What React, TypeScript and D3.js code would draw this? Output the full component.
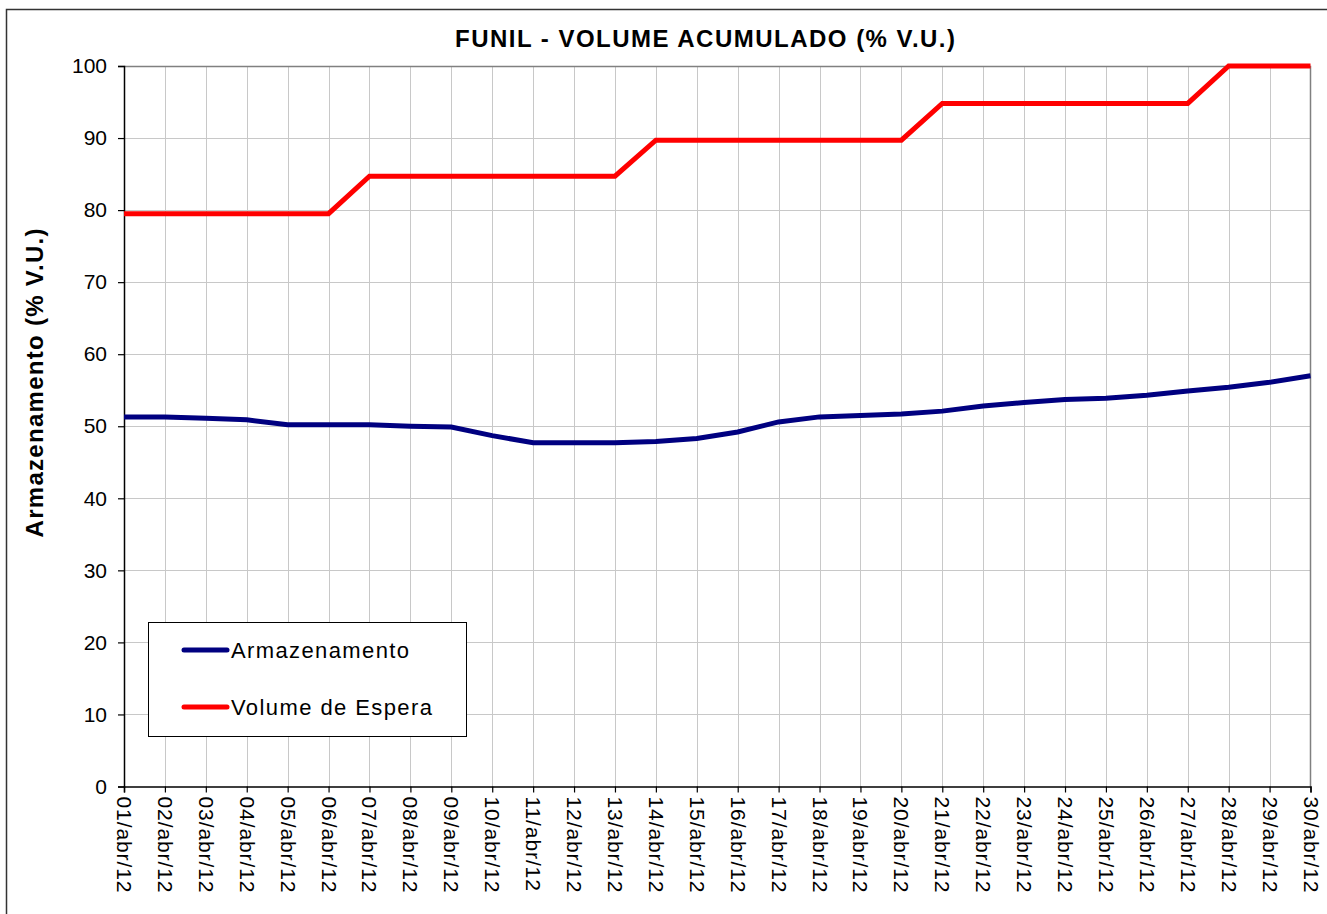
import { useEffect, useRef } from "react"
import * as d3 from "d3"

const days = [
  "01/abr/12", "02/abr/12", "03/abr/12", "04/abr/12", "05/abr/12", "06/abr/12",
  "07/abr/12", "08/abr/12", "09/abr/12", "10/abr/12", "11/abr/12", "12/abr/12",
  "13/abr/12", "14/abr/12", "15/abr/12", "16/abr/12", "17/abr/12", "18/abr/12",
  "19/abr/12", "20/abr/12", "21/abr/12", "22/abr/12", "23/abr/12", "24/abr/12",
  "25/abr/12", "26/abr/12", "27/abr/12", "28/abr/12", "29/abr/12", "30/abr/12",
]
const armazenamento = [
  51.3, 51.3, 51.1, 50.9, 50.2, 50.2, 50.2, 50.0, 49.9, 48.7,
  47.7, 47.7, 47.7, 47.9, 48.3, 49.2, 50.6, 51.3, 51.5, 51.7,
  52.1, 52.8, 53.3, 53.7, 53.9, 54.3, 54.9, 55.4, 56.1, 57.0,
]
const volumeEspera = [
  79.5, 79.5, 79.5, 79.5, 79.5, 79.5, 84.7, 84.7, 84.7, 84.7,
  84.7, 84.7, 84.7, 89.7, 89.7, 89.7, 89.7, 89.7, 89.7, 89.7,
  94.8, 94.8, 94.8, 94.8, 94.8, 94.8, 94.8, 100, 100, 100,
]
const yTicks = [0, 10, 20, 30, 40, 50, 60, 70, 80, 90, 100]
const seriesNames = ["Armazenamento", "Volume de Espera"]

const W = 1327, H = 914
const left = 124, right = 1310.5, top = 66, bottom = 786.5
const font = "'Liberation Sans', Arial, sans-serif"

const App = () => {
  const ref = useRef<SVGSVGElement>(null)

  useEffect(() => {
    document.body.style.margin = "0"
    const svg = d3.select(ref.current)
    svg.selectAll("*").remove()

    const x = d3.scalePoint(days, [left, right])
    const y = d3.scaleLinear().domain([0, 100]).range([bottom, top])

    // outer frame
    svg.append("rect")
      .attr("x", 6.5).attr("y", 9.5)
      .attr("width", W).attr("height", H)
      .attr("fill", "none").attr("stroke", "#333").attr("stroke-width", 1.5)

    // grid
    svg.append("g").selectAll("line")
      .data(yTicks.slice(1, -1))
      .enter().append("line")
      .attr("x1", left).attr("x2", right)
      .attr("y1", d => Math.round(y(d)) + 0.5).attr("y2", d => Math.round(y(d)) + 0.5)
      .attr("stroke", "#c8c8c8")
    svg.append("g").selectAll("line")
      .data(days.slice(1, -1))
      .enter().append("line")
      .attr("x1", d => Math.round(x(d)!) + 0.5).attr("x2", d => Math.round(x(d)!) + 0.5)
      .attr("y1", top).attr("y2", bottom)
      .attr("stroke", "#c8c8c8")

    // plot border (top / right)
    svg.append("path")
      .attr("d", `M${left},${top + 0.5}H${right}V${bottom}`)
      .attr("fill", "none").attr("stroke", "#808080").attr("stroke-width", 1.5)

    // y axis
    const yAxis = svg.append("g")
      .attr("transform", `translate(${left},0)`)
      .call(d3.axisLeft(y).tickValues(yTicks).tickSize(6).tickPadding(11))
    yAxis.select(".domain").attr("stroke", "#000").attr("stroke-width", 1.5)
    yAxis.selectAll(".tick line").attr("stroke", "#000").attr("stroke-width", 1.2)
    yAxis.selectAll("text")
      .attr("font-family", font).attr("font-size", 21).attr("fill", "#000")

    // x axis
    const xAxis = svg.append("g")
      .attr("transform", `translate(0,${bottom})`)
      .call(d3.axisBottom(x).tickSize(6).tickPadding(0))
    xAxis.select(".domain").attr("stroke", "#000").attr("stroke-width", 1.5)
    xAxis.selectAll(".tick line").attr("stroke", "#000").attr("stroke-width", 1.2)
    xAxis.selectAll("text")
      .attr("font-family", font).attr("font-size", 21).attr("fill", "#000")
      .attr("letter-spacing", 0.9)
      .attr("text-anchor", "start")
      .attr("x", 0).attr("y", 0)
      .attr("dy", null)
      .attr("dominant-baseline", "central")
      .attr("transform", "translate(0,10) rotate(90)")

    // lines
    const line = d3.line<number>()
      .x((_, i) => x(days[i])!)
      .y(d => y(d))
    svg.append("path")
      .datum(armazenamento)
      .attr("d", line)
      .attr("fill", "none").attr("stroke", "#000080").attr("stroke-width", 5)
    svg.append("path")
      .datum(volumeEspera)
      .attr("d", line)
      .attr("fill", "none").attr("stroke", "#ff0000").attr("stroke-width", 5)

    // title
    svg.append("text")
      .attr("x", 705).attr("y", 47)
      .attr("text-anchor", "middle")
      .attr("font-family", font).attr("font-weight", "bold").attr("font-size", 24)
      .attr("textLength", 500).attr("lengthAdjust", "spacing")
      .text("FUNIL - VOLUME ACUMULADO  (% V.U.)")

    // y label
    svg.append("text")
      .attr("transform", "translate(43,383) rotate(-90)")
      .attr("text-anchor", "middle")
      .attr("font-family", font).attr("font-weight", "bold").attr("font-size", 24)
      .attr("textLength", 309).attr("lengthAdjust", "spacing")
      .text("Armazenamento  (% V.U.)")

    // legend
    const legend = svg.append("g")
    legend.append("rect")
      .attr("x", 148.5).attr("y", 622.5).attr("width", 318).attr("height", 114)
      .attr("fill", "#fff").attr("stroke", "#000").attr("stroke-width", 1)
    const colors = ["#000080", "#ff0000"]
    const widths = [178, 201]
    seriesNames.forEach((name, i) => {
      const ly = 650 + i * 57
      legend.append("line")
        .attr("x1", 184).attr("x2", 227).attr("y1", ly).attr("y2", ly)
        .attr("stroke", colors[i]).attr("stroke-width", 5).attr("stroke-linecap", "round")
      legend.append("text")
        .attr("x", 231).attr("y", ly + 8)
        .attr("font-family", font).attr("font-size", 22)
        .attr("textLength", widths[i]).attr("lengthAdjust", "spacing")
        .text(name)
    })
  }, [])

  return <svg ref={ref} width={W} height={H}
    style={{ position: "absolute", left: 0, top: 0, background: "#fff" }} />
}

export default App
